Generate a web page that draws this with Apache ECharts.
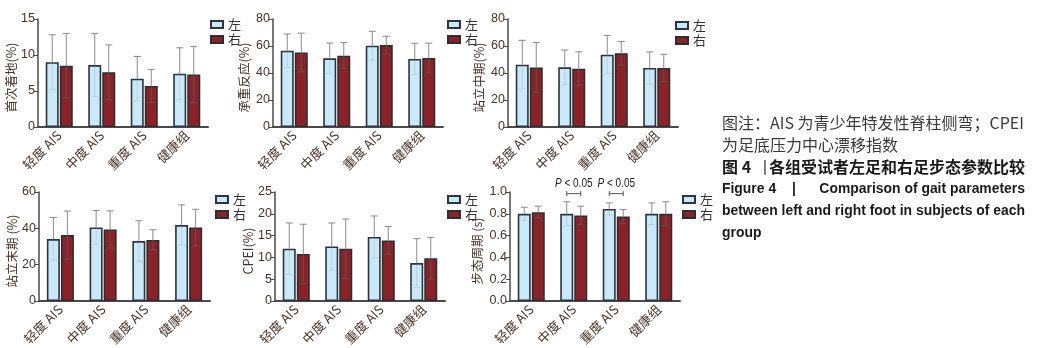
<!DOCTYPE html>
<html>
<head>
<meta charset="utf-8">
<script src="https://cdn.jsdelivr.net/npm/echarts@6/dist/echarts.min.js"></script>
<style>
  html, body { margin: 0; padding: 0; background: #fff; }
  #main { width: 1038px; height: 348px; }
</style>
</head>
<body>
<div id="main"></div>
<script>
// 各组左右足步态参数 (均数 ± 标准差)
var categories = ['轻度 AIS', '中度 AIS', '重度 AIS', '健康组'];

var firstLeft = [9.0, 8.6, 6.7, 7.4];
var firstLeftSd = [3.8, 4.4, 3.1, 3.6];
var firstRight = [8.5, 7.6, 5.7, 7.3];
var firstRightSd = [4.5, 3.8, 2.3, 3.9];

var loadLeft = [56.5, 50.9, 60.2, 50.4];
var loadLeftSd = [12.4, 11.3, 10.7, 11.6];
var loadRight = [55.2, 52.8, 60.7, 51.1];
var loadRightSd = [14.3, 9.7, 6.5, 11.0];

var midLeft = [46.2, 44.2, 53.6, 43.7];
var midLeftSd = [18.0, 12.8, 14.3, 11.9];
var midRight = [44.0, 43.2, 54.6, 43.7];
var midRightSd = [18.6, 12.5, 8.8, 10.2];

var termLeft = [34.1, 40.5, 33.0, 41.8];
var termLeftSd = [11.9, 9.3, 11.2, 11.1];
var termRight = [36.3, 39.4, 33.6, 40.5];
var termRightSd = [13.2, 10.2, 5.6, 10.0];

var cpeiLeft = [12.0, 12.5, 14.7, 8.7];
var cpeiLeftSd = [5.9, 5.4, 4.8, 5.6];
var cpeiRight = [10.8, 12.0, 13.9, 9.8];
var cpeiRightSd = [6.8, 6.8, 3.2, 4.8];

var cycleLeft = [0.80, 0.80, 0.845, 0.80];
var cycleLeftSd = [0.06, 0.11, 0.055, 0.10];
var cycleRight = [0.815, 0.785, 0.775, 0.80];
var cycleRightSd = [0.055, 0.085, 0.065, 0.11];

// 显著性标注 (步态周期)
var sigGroups = [1, 2];
var sigLevel = [0.985, 0.985];

var yNames = ['首次着地(%)', '承重反应(%)', '站立中期(%)', '站立末期 (%)', 'CPEI(%)', '步态周期 (s)'];
var yMax = [15, 80, 80, 60, 25, 1.0];
var yStep = [5, 20, 20, 20, 5, 0.2];

var panels = [
    [firstLeft, firstLeftSd, firstRight, firstRightSd],
    [loadLeft, loadLeftSd, loadRight, loadRightSd],
    [midLeft, midLeftSd, midRight, midRightSd],
    [termLeft, termLeftSd, termRight, termRightSd],
    [cpeiLeft, cpeiLeftSd, cpeiRight, cpeiRightSd],
    [cycleLeft, cycleLeftSd, cycleRight, cycleRightSd]
];

// 布局
var gridPos = [
    {left: 38, top: 19, width: 170, height: 108},
    {left: 273, top: 19, width: 170, height: 108},
    {left: 508, top: 19, width: 170, height: 108},
    {left: 39, top: 192, width: 171, height: 109},
    {left: 275, top: 192, width: 170, height: 109},
    {left: 510, top: 192, width: 170, height: 109}
];
var legendPos = [[210, 18], [447, 18], [675, 19], [215, 193], [447, 193], [682, 193]];
var nameGaps = [19, 22, 22, 18, 20, 26];

var LIGHT = '#c9e8f8';
var DARK = '#8a2329';
var TXT = '#4a3328';
var CJK = '"Noto Sans CJK SC", sans-serif';
var LAT = '"Liberation Sans", "Noto Sans CJK SC", sans-serif';
var EN = '"Liberation Sans", sans-serif';

function errRender(offset, lowColor) {
    return function (params, api) {
        var c = api.value(0), m = api.value(1), s = api.value(2);
        var top = api.coord([c, m + s]);
        var mid = api.coord([c, m]);
        var bot = api.coord([c, m - s]);
        var x = top[0] + offset;
        var cap = 3.5;
        var up = {stroke: '#8a8a8a', lineWidth: 1};
        var low = {stroke: lowColor, lineWidth: 1};
        return {
            type: 'group',
            children: [
                {type: 'line', shape: {x1: x, y1: top[1], x2: x, y2: mid[1]}, style: up},
                {type: 'line', shape: {x1: x - cap, y1: top[1], x2: x + cap, y2: top[1]}, style: up},
                {type: 'line', shape: {x1: x, y1: mid[1], x2: x, y2: bot[1]}, style: low},
                {type: 'line', shape: {x1: x - cap, y1: bot[1], x2: x + cap, y2: bot[1]}, style: low}
            ]
        };
    };
}

function sigRender(params, api) {
    var c = api.value(0), v = api.value(1);
    var p = api.coord([c, v]);
    var y = p[1];
    var st = {stroke: '#555', lineWidth: 1};
    return {
        type: 'group',
        children: [
            {type: 'line', shape: {x1: p[0] - 7, y1: y, x2: p[0] + 7, y2: y}, style: st},
            {type: 'line', shape: {x1: p[0] - 7, y1: y - 2.5, x2: p[0] - 7, y2: y + 2.5}, style: st},
            {type: 'line', shape: {x1: p[0] + 7, y1: y - 2.5, x2: p[0] + 7, y2: y + 2.5}, style: st},
            {
                type: 'text',
                x: p[0], y: y - 4, scaleX: 0.8,
                style: {
                    x: 0, y: 0, align: 'center', verticalAlign: 'bottom',
                    text: '{i|P} < 0.05',
                    rich: {i: {fontStyle: 'italic', fontSize: 12.5, fontFamily: LAT, fill: '#222'}},
                    fontSize: 12.5, fontFamily: LAT, fill: '#222'
                }
            }
        ]
    };
}

var chart = echarts.init(document.getElementById('main'));

var grids = [], xAxes = [], yAxes = [], legends = [], series = [];

panels.forEach(function (pd, i) {
    grids.push(gridPos[i]);
    xAxes.push({
        type: 'category',
        gridIndex: i,
        data: categories,
        axisLine: {lineStyle: {color: '#4a4a4a', width: 2}},
        axisTick: {show: false},
        axisLabel: {
            rotate: 45, interval: 0, fontSize: 13, color: TXT, margin: 6,
            fontFamily: CJK
        }
    });
    yAxes.push({
        type: 'value',
        gridIndex: i,
        min: 0,
        max: yMax[i],
        interval: yStep[i],
        splitLine: {show: false},
        axisLine: {show: true, lineStyle: {color: '#4a4a4a', width: 1.5}},
        axisTick: {show: true, length: 4, lineStyle: {color: '#4a4a4a'}},
        axisLabel: {
            fontSize: 12.5, color: TXT, margin: 3, fontFamily: LAT,
            formatter: function (v) { return i === 5 ? v.toFixed(1) : String(v); }
        },
        name: yNames[i],
        nameLocation: 'middle',
        nameGap: nameGaps[i],
        nameRotate: 90,
        nameTextStyle: {fontSize: 12.5, color: TXT, fontFamily: CJK, padding: [0, 9, 0, 0]}
    });
    legends.push({
        orient: 'vertical',
        left: legendPos[i][0],
        top: legendPos[i][1],
        padding: 0,
        itemWidth: 12,
        itemHeight: 7,
        itemGap: 2,
        icon: 'rect',
        data: ['左', '右'],
        textStyle: {fontSize: 13, lineHeight: 12, color: '#333', fontFamily: CJK}
    });
    series.push({
        name: '左', type: 'bar', xAxisIndex: i, yAxisIndex: i,
        data: pd[0], barWidth: 13, barGap: '8%',
        itemStyle: {color: LIGHT, borderColor: '#2d3340', borderWidth: 1.6}
    });
    series.push({
        name: '右', type: 'bar', xAxisIndex: i, yAxisIndex: i,
        data: pd[2], barWidth: 13, barGap: '8%',
        itemStyle: {color: DARK, borderColor: '#2e2e2e', borderWidth: 1.6}
    });
    series.push({
        type: 'custom', xAxisIndex: i, yAxisIndex: i, z: 5, silent: true,
        renderItem: errRender(-7, 'rgba(150,150,150,0.25)'),
        data: pd[0].map(function (v, k) { return [k, v, pd[1][k]]; })
    });
    series.push({
        type: 'custom', xAxisIndex: i, yAxisIndex: i, z: 5, silent: true,
        renderItem: errRender(7, 'rgba(90,90,90,0.8)'),
        data: pd[2].map(function (v, k) { return [k, v, pd[3][k]]; })
    });
});

series.push({
    type: 'custom', xAxisIndex: 5, yAxisIndex: 5, z: 6, silent: true, clip: false,
    renderItem: sigRender,
    data: sigGroups.map(function (g, k) { return [g, sigLevel[k]]; })
});

// 右侧图注
var capX = 722, capR = 1025;
var normal = {fontSize: 16, fontFamily: CJK, fill: '#3a3a3a'};
var bold = {fontSize: 16, fontFamily: CJK, fontWeight: 'bold', fill: '#1a1a1a'};
var enBold = {fontSize: 14, fontFamily: EN, fontWeight: 'bold', fill: '#1a1a1a'};

// 英文行按参考宽度压缩
var ctx = document.createElement('canvas').getContext('2d');
ctx.font = 'bold 14px "Liberation Sans", sans-serif';
var enScale = Math.min(1, (capR - capX) / ctx.measureText('between left and right foot in subjects of each').width);

function line(x, y, text, st, align, sx) {
    return {
        type: 'text', x: x, y: y, scaleX: sx || 1,
        style: Object.assign({text: text, x: 0, y: 0, align: align || 'left', verticalAlign: 'middle'}, st)
    };
}

var graphics = [
    line(capX, 123, '图注：AIS 为青少年特发性脊柱侧弯；CPEI', normal),
    line(capX, 145, '为足底压力中心漂移指数', normal),
    line(capX, 167, '图 4', bold),
    line(757, 167, '丨', normal),
    line(capR, 167, '各组受试者左足和右足步态参数比较', bold, 'right'),
    line(capX, 189, 'Figure 4', enBold, 'left', enScale),
    line(792, 189, '|', enBold, 'left', enScale),
    line(capR, 189, 'Comparison of gait parameters', enBold, 'right', enScale),
    line(capX, 211, 'between left and right foot in subjects of each', enBold, 'left', enScale),
    line(capX, 233, 'group', enBold, 'left', enScale)
];

chart.setOption({
    animation: false,
    textStyle: {fontFamily: CJK},
    grid: grids,
    xAxis: xAxes,
    yAxis: yAxes,
    legend: legends,
    series: series,
    graphic: graphics
});
</script>
</body>
</html>
